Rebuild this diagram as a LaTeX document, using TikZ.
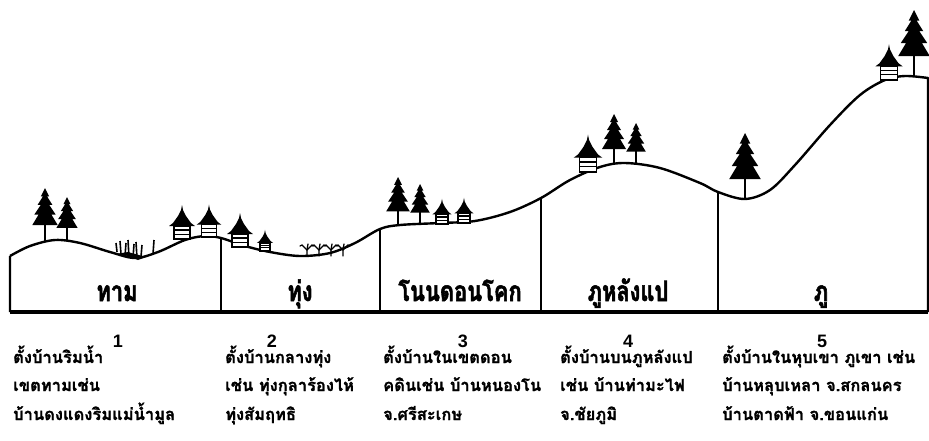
\documentclass[tikz,border=0pt]{standalone}
\usepackage{fontspec}
\setmainfont{Liberation Sans}
\newfontfamily\thaifont[Script=Thai,BoldFeatures={FakeBold=1.2}]{Loma}
\newfontfamily\thaihead[Script=Thai,FakeStretch=0.78,BoldFeatures={FakeBold=2}]{Loma}
\begin{document}
\begin{tikzpicture}[x=1pt,y=-1pt,
  ground/.style={line width=3.6pt},
  divider/.style={line width=2pt},
  zonelabel/.style={font=\thaihead\bfseries\fontsize{28}{28}\selectfont, anchor=base, inner sep=0pt},
  zonenum/.style={font=\bfseries\fontsize{18}{18}\selectfont, anchor=base, inner sep=0pt},
  desc/.style={font=\thaifont\bfseries\fontsize{16.5}{16.5}\selectfont, anchor=base west, inner sep=0pt},
  pinetree/.pic={
    \draw[line width=2pt] (0,0) -- (0,-16);
    \fill (0,-50) -- (-4,-42) -- (-2,-42) -- (-7,-34) -- (-4,-34) -- (-10,-25)
      -- (-6,-25) -- (-12,-15) -- (12,-15) -- (6,-25) -- (10,-25) -- (4,-34)
      -- (7,-34) -- (2,-42) -- (4,-42) -- cycle;
  },
  thaihouse/.pic={
    \draw[line width=1.3pt, fill=white] (-8,-13) rectangle (8,0);
    \draw[line width=1.8pt] (-8,-9) -- (8,-9);
    \draw[line width=1pt] (-8,-5) -- (8,-5);
    \fill (0,-34) -- (-1,-29) -- (-4,-23) -- (-9,-16) -- (-13,-13) -- (13,-13)
      -- (9,-16) -- (4,-23) -- (1,-29) -- cycle;
  }
]
\useasboundingbox (0,0) rectangle (929,440);

% points where the zone dividers meet the land profile
\coordinate (d1) at (221,238);
\coordinate (d2) at (380,229);
\coordinate (d3) at (541,198);
\coordinate (d4) at (718,192);
\coordinate (gl) at (10,312);
\coordinate (gr) at (928,312);

% land profile
\draw[line width=2.4pt, line join=round]
  (gl) -- (10,256)
  plot[smooth, tension=0.55] coordinates {(10,256) (30,246) (55,240) (80,243)
    (110,252) (135,258) (158,252) (185,240) (205,236) (221,238) (245,246)
    (270,252) (300,256) (330,253) (355,243) (380,229) (400,225) (440,223)
    (475,221) (510,212) (541,198) (570,180) (600,167) (625,163) (660,168)
    (700,183) (718,192) (745,199) (770,190) (795,165) (830,125) (860,95)
    (885,80) (905,76) (928,78)}
  -- (gr);
\draw[ground] (gl) -- (gr);

% zone dividers
\draw[divider] (d1) -- (d1 |- gl);
\draw[divider] (d2) -- (d2 |- gl);
\draw[divider] (d3) -- (d3 |- gl);
\draw[divider] (d4) -- (d4 |- gl);

% trees
\pic[scale=1.06] at (45,241) {pinetree};
\pic[scale=0.88] at (67,241) {pinetree};
\pic[scale=0.98] at (398,226) {pinetree};
\pic[scale=0.82] at (420,225) {pinetree};
\pic[scale=1.0]  at (614,164) {pinetree};
\pic[scale=0.82] at (636,164) {pinetree};
\pic[scale=1.32] at (745,199) {pinetree};
\pic[scale=1.32] at (914,76) {pinetree};

% houses
\pic[scale=1.0]  at (182,239) {thaihouse};
\pic[scale=0.95] at (209,237) {thaihouse};
\pic[scale=1.0]  at (240,247) {thaihouse};
\pic[scale=0.62] at (265,251) {thaihouse};
\pic[scale=0.74] at (442,224) {thaihouse};
\pic[scale=0.74] at (464,223) {thaihouse};
\pic[scale=1.1]  at (588,172) {thaihouse};
\pic[scale=1.05] at (889,80) {thaihouse};

% reeds in the wetland dip
\begin{scope}[line width=1.6pt]
  \draw (117,252) -- (116,243);
  \draw (121,254) -- (120,241);
  \draw (125,256) -- (126,243);
  \draw (129,257) -- (128,240);
  \draw (133,258) -- (134,244);
  \draw (137,258) -- (136,242);
  \draw (141,257) -- (142,245);
  \draw (153,254) -- (154,240);
  \fill (116,254) -- (128,256) -- (138,260) -- (146,257) -- (128,252) -- cycle;
\end{scope}

% shrubs in the plain
\begin{scope}[line width=1.3pt, line cap=round]
  \foreach \sx in {307,319,331,343}{
    \draw (\sx,256) -- (\sx,250) -- (\sx-5,245) -- (\sx-7,246);
    \draw (\sx,250) -- (\sx+5,245) -- (\sx+7,246);
    \draw (\sx,250) -- (\sx+1,244);
  }
\end{scope}

% zone names
\node[zonelabel] (z1) at (117,301) {ทาม};
\node[zonelabel] (z2) at (300,301) {ทุ่ง};
\node[zonelabel] (z3) at (460,301) {โนนดอนโคก};
\node[zonelabel] (z4) at (628,301) {ภูหลังแป};
\node[zonelabel] (z5) at (821,301) {ภู};

% zone numbers
\node[zonenum] (n1) at (118,347) {1};
\node[zonenum] (n2) at (272,347) {2};
\node[zonenum] (n3) at (463,347) {3};
\node[zonenum] (n4) at (628,347) {4};
\node[zonenum] (n5) at (822,347) {5};

% settlement notes
\node[desc] (t1a) at (13,363) {ตั้งบ้านริมน้ำ};
\node[desc] (t1b) at (13,391) {เขตทามเช่น};
\node[desc] (t1c) at (13,420) {บ้านดงแดงริมแม่น้ำมูล};

\node[desc] (t2a) at (225,363) {ตั้งบ้านกลางทุ่ง};
\node[desc] (t2b) at (225,391) {เช่น ทุ่งกุลาร้องไห้};
\node[desc] (t2c) at (225,420) {ทุ่งสัมฤทธิ};

\node[desc] (t3a) at (383,363) {ตั้งบ้านในเขตดอน};
\node[desc] (t3b) at (383,391) {คดินเช่น บ้านหนองโน};
\node[desc] (t3c) at (383,420) {จ.ศรีสะเกษ};

\node[desc] (t4a) at (560,363) {ตั้งบ้านบนภูหลังแป};
\node[desc] (t4b) at (560,391) {เช่น บ้านท่ามะไฟ};
\node[desc] (t4c) at (560,420) {จ.ชัยภูมิ};

\node[desc] (t5a) at (722,363) {ตั้งบ้านในหุบเขา ภูเขา เช่น};
\node[desc] (t5b) at (722,391) {บ้านหลุบเหลา จ.สกลนคร};
\node[desc] (t5c) at (722,420) {บ้านตาดฟ้า จ.ขอนแก่น};
\end{tikzpicture}
\end{document}
